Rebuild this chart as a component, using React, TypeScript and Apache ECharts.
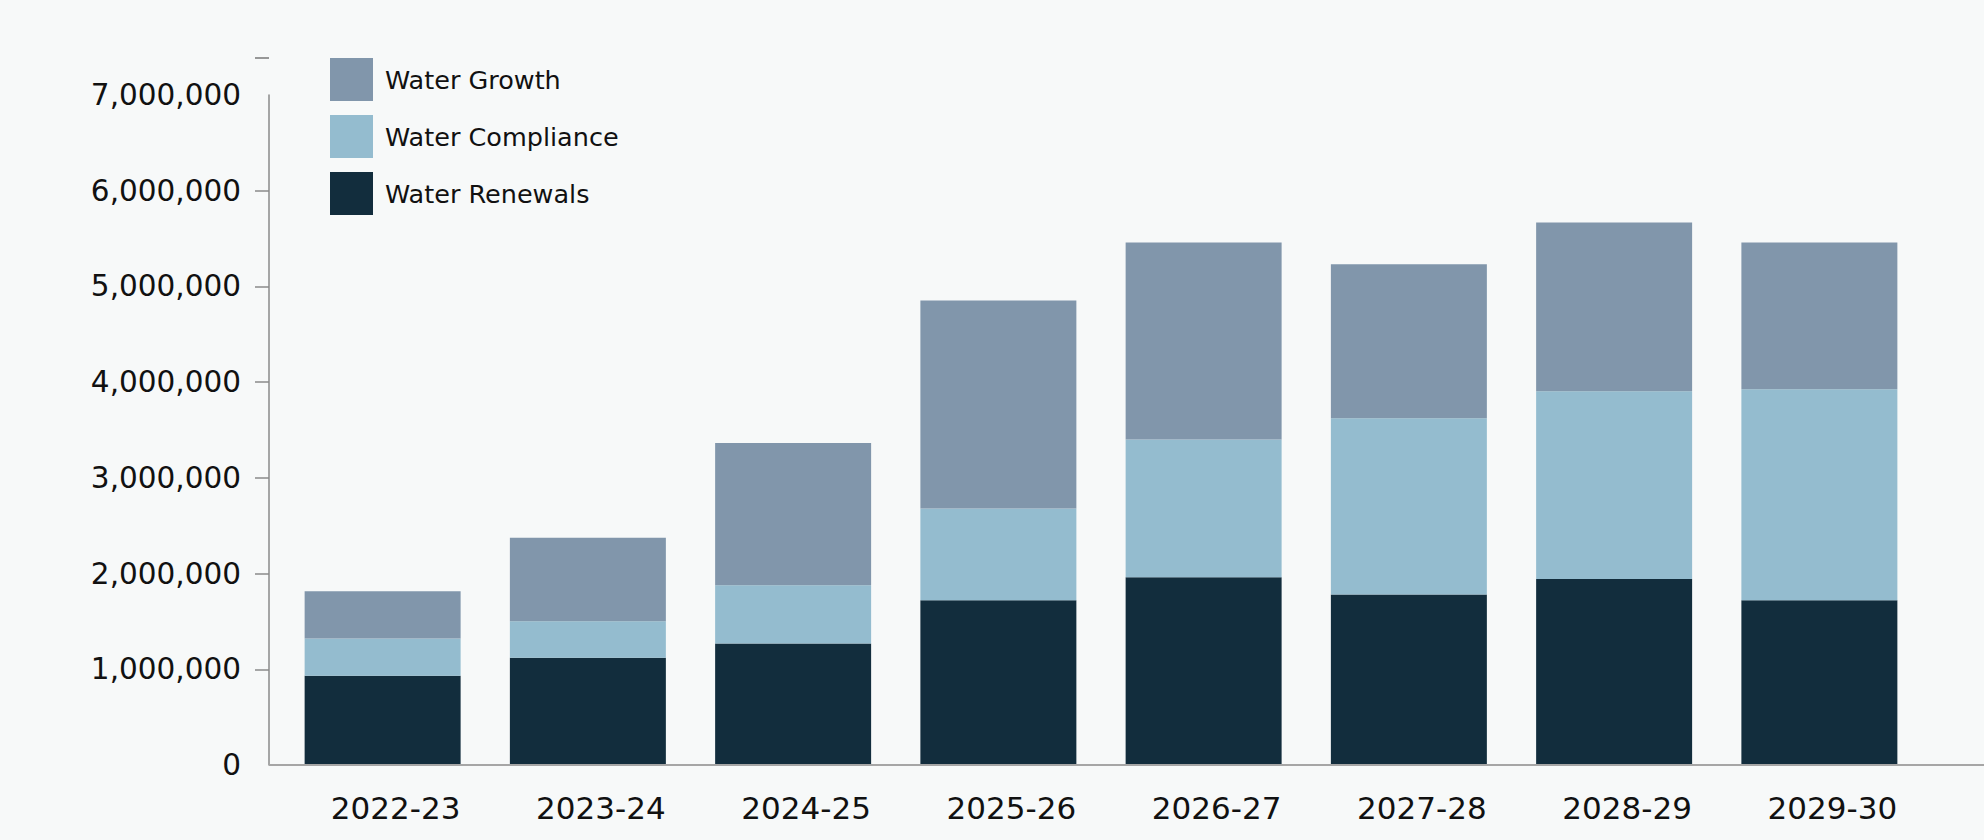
import React, { useEffect, useRef } from "react";
import * as echarts from "echarts";

const categories = ["2022-23", "2023-24", "2024-25", "2025-26", "2026-27", "2027-28", "2028-29", "2029-30"];
const renewals = [932000, 1120000, 1270000, 1722000, 1961000, 1782000, 1944000, 1722000];
const compliance = [390000, 383000, 609000, 959000, 1440000, 1840000, 1960000, 2203000];
const growth = [494000, 870000, 1484000, 2173000, 2058000, 1611000, 1764000, 1534000];
const legendNames = ["Water Growth", "Water Compliance", "Water Renewals"];
const tickValues = [1000000, 2000000, 3000000, 4000000, 5000000, 6000000];

const FONT = "DejaVu Sans";

const App = () => {
	const chartRef = useRef(null);

	useEffect(() => {
		if (!chartRef.current) return;
		const chart = echarts.init(chartRef.current, null, { renderer: "svg" });

		const bar = (name, data, color) => ({
			name,
			type: "bar",
			stack: "total",
			data,
			barWidth: "76%",
			itemStyle: { color },
			emphasis: { disabled: true },
		});

		chart.setOption({
			animation: false,
			backgroundColor: "#f7f9f9",
			textStyle: { fontFamily: FONT },
			grid: { left: 280, right: 62, top: 95, bottom: 75 },
			legend: {
				orient: "vertical",
				left: 330,
				top: 58,
				padding: 0,
				itemWidth: 43,
				itemHeight: 43,
				itemGap: 14,
				icon: "rect",
				data: legendNames,
				textStyle: { fontFamily: FONT, fontSize: 25.5, color: "#111", padding: [0, 0, 0, 7] },
			},
			xAxis: {
				type: "category",
				data: categories,
				axisLine: { show: false },
				axisTick: { show: false },
				axisLabel: {
					fontFamily: FONT,
					fontSize: 31,
					color: "#111",
					margin: 27,
					padding: [0, 0, 0, 26],
				},
			},
			yAxis: {
				type: "value",
				min: 0,
				max: 7000000,
				interval: 1000000,
				offset: 11,
				splitLine: { show: false },
				axisLine: { show: true, lineStyle: { color: "#8a8a8a", width: 1.5 } },
				axisTick: {
					show: true,
					length: 14,
					customValues: tickValues,
					lineStyle: { color: "#8a8a8a", width: 1.5 },
				},
				axisLabel: {
					fontFamily: FONT,
					fontSize: 29.5,
					color: "#111",
					margin: 28,
					formatter: (v) => v.toLocaleString("en-US"),
				},
			},
			graphic: [
				{
					type: "line",
					z: 100,
					shape: { x1: 269, y1: 765, x2: 1984, y2: 765 },
					style: { stroke: "#a6a6a6", lineWidth: 2 },
				},
				{
					type: "line",
					shape: { x1: 255, y1: 58, x2: 269, y2: 58 },
					style: { stroke: "#777", lineWidth: 1.5 },
				},
			],
			series: [
				bar("Water Renewals", renewals, "#122d3d"),
				bar("Water Compliance", compliance, "#94bccf"),
				bar("Water Growth", growth, "#8196ab"),
			],
		});

		return () => {
			chart.dispose();
		};
	}, []);

	return (
		<div style={{ position: "fixed", left: 0, top: 0, width: 1984, height: 840, background: "#f7f9f9" }}>
			<div ref={chartRef} style={{ width: "1984px", height: "840px" }} />
		</div>
	);
};

export default App;
